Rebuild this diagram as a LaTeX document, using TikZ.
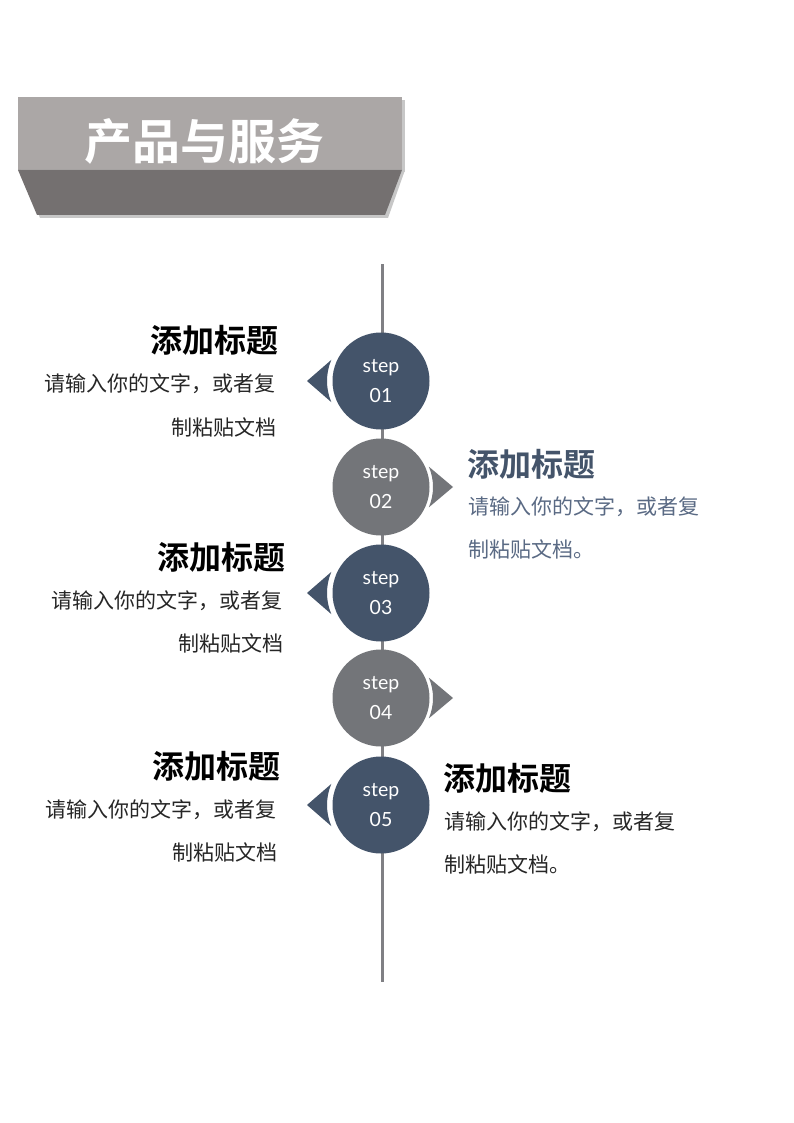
\documentclass[tikz,border=0pt]{standalone}
\usepackage{fontspec}
\setmainfont{Lato}
\newfontfamily\cjk[BoldFont={Noto Sans CJK SC Bold}]{Noto Sans CJK SC}
\usetikzlibrary{calc}
\definecolor{navy}{HTML}{44546A}
\definecolor{slate}{HTML}{737579}
\definecolor{bannerlight}{HTML}{ABA7A6}
\definecolor{bannerdark}{HTML}{747070}
\definecolor{axisgray}{HTML}{808084}
\definecolor{bodynavy}{HTML}{5A6A84}

\begin{document}
\begin{tikzpicture}[x=1pt, y=1pt,
		stepdot/.style={circle, minimum size=97pt, inner sep=0pt, text=white, align=center, font=\fontsize{19.5}{30}\selectfont},
		headline/.style={font=\cjk\bfseries\fontsize{32}{32}\selectfont, inner sep=0pt},
		bodyline/.style={font=\cjk\fontsize{21}{21}\selectfont, inner sep=0pt, text=black!85}]
		\useasboundingbox[fill=white] (0,0) rectangle (794,-1123);

		% BANNER
		\fill[black!22] (21,-100) rectangle (405,-172);
		\fill[bannerlight] (18,-97) rectangle (402,-170);
		\fill[black!22] (21,-170) -- (405,-170) -- (388,-218) -- (40,-218) -- cycle;
		\fill[bannerdark] (18,-170) -- (402,-170) -- (385,-215) -- (37,-215) -- cycle;
		\node[font=\cjk\bfseries\fontsize{48}{48}\selectfont, text=white, inner sep=0pt] (banner) at (204,-141) {产品与服务};

		% AXIS
		\coordinate (axistop) at (382,-264);
		\coordinate (axisbottom) at (382,-982);
		\draw[axisgray, line width=3pt] (axistop) -- (axisbottom);

		% STEP 01
		\node[stepdot, fill=navy] (s1) at (381,-381) {step\\01};
		\fill[navy] ($(s1)+(157:54)$) -- ($(s1)+(180:74)$) -- ($(s1)+(203:54)$) arc[start angle=203, end angle=157, radius=54] -- cycle;
		\node[headline, anchor=east] (h1) at (279,-340) {添加标题};
		\node[bodyline, anchor=east] (b1) at (276,-384) {请输入你的文字，或者复};
		\node[bodyline, anchor=east] (c1) at (277,-427) {制粘贴文档};

		% STEP 02
		\node[stepdot, fill=slate] (s2) at (381,-487) {step\\02};
		\fill[slate] ($(s2)+(23:52)$) -- ($(s2)+(0:72)$) -- ($(s2)+(-23:52)$) arc[start angle=-23, end angle=23, radius=52] -- cycle;
		\node[headline, anchor=west, text=navy] (h2) at (467,-464) {添加标题};
		\node[bodyline, anchor=west, text=bodynavy] (b2) at (468,-507) {请输入你的文字，或者复};
		\node[bodyline, anchor=west, text=bodynavy] (c2) at (468,-549) {制粘贴文档。};

		% STEP 03
		\node[stepdot, fill=navy] (s3) at (381,-593) {step\\03};
		\fill[navy] ($(s3)+(157:54)$) -- ($(s3)+(180:74)$) -- ($(s3)+(203:54)$) arc[start angle=203, end angle=157, radius=54] -- cycle;
		\node[headline, anchor=east] (h3) at (286,-557) {添加标题};
		\node[bodyline, anchor=east] (b3) at (283,-601) {请输入你的文字，或者复};
		\node[bodyline, anchor=east] (c3) at (284,-643) {制粘贴文档};

		% STEP 04
		\node[stepdot, fill=slate] (s4) at (381,-698) {step\\04};
		\fill[slate] ($(s4)+(23:52)$) -- ($(s4)+(0:72)$) -- ($(s4)+(-23:52)$) arc[start angle=-23, end angle=23, radius=52] -- cycle;

		% STEP 05
		\node[stepdot, fill=navy] (s5) at (381,-805) {step\\05};
		\fill[navy] ($(s5)+(157:54)$) -- ($(s5)+(180:74)$) -- ($(s5)+(203:54)$) arc[start angle=203, end angle=157, radius=54] -- cycle;
		\node[headline, anchor=east] (h5) at (281,-766) {添加标题};
		\node[bodyline, anchor=east] (b5) at (277,-810) {请输入你的文字，或者复};
		\node[bodyline, anchor=east] (c5) at (278,-852) {制粘贴文档};
		\node[headline, anchor=west] (h6) at (443,-778) {添加标题};
		\node[bodyline, anchor=west] (b6) at (444,-822) {请输入你的文字，或者复};
		\node[bodyline, anchor=west] (c6) at (444,-864) {制粘贴文档。};
	\end{tikzpicture}
\end{document}
